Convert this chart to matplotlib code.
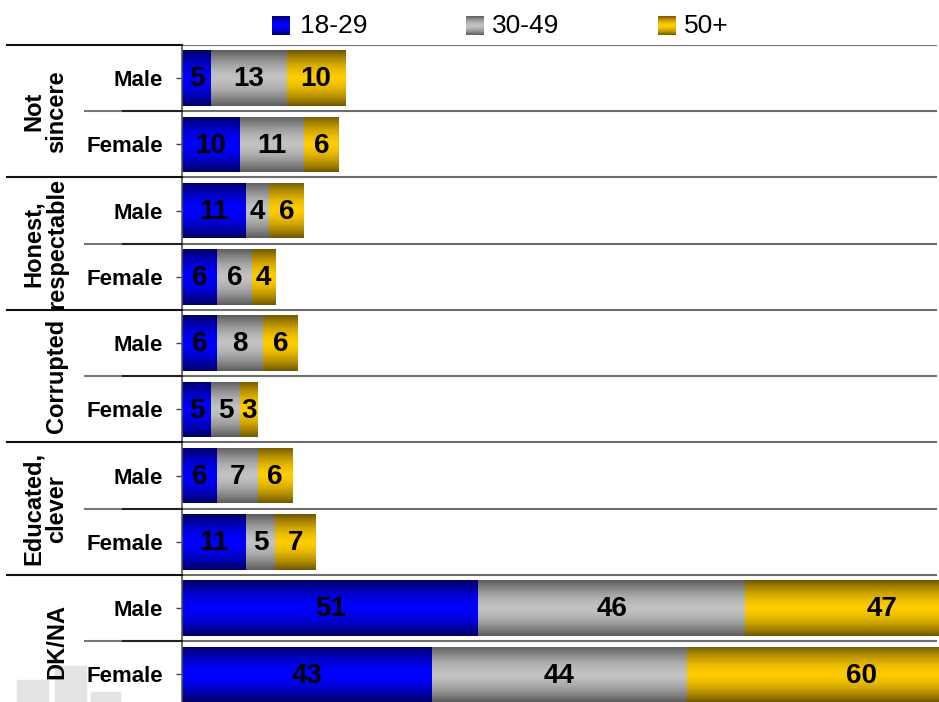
import numpy as np
import matplotlib
matplotlib.use("Agg")
import matplotlib.pyplot as plt
from matplotlib.transforms import blended_transform_factory
from matplotlib.lines import Line2D
from matplotlib.patches import Rectangle

plt.rcParams['font.family'] = ['Liberation Sans', 'DejaVu Sans']

# ---- data ----
groups = ["Not\nsincere", "Honest,\nrespectable", "Corrupted", "Educated,\nclever", "DK/NA"]
genders = ["Male", "Female"]
series = ["18-29", "30-49", "50+"]
age_18_29 = [5, 10, 11, 6, 6, 5, 6, 11, 51, 43]
age_30_49 = [13, 11, 4, 6, 8, 5, 7, 5, 46, 44]
age_50_plus = [10, 6, 6, 4, 6, 3, 6, 7, 47, 60]
values = [age_18_29, age_30_49, age_50_plus]

# gradient colours: (centre, edge)
grad_colors = [
    ((0, 0, 255), (0, 0, 100)),
    ((194, 194, 194), (92, 92, 92)),
    ((255, 204, 0), (112, 88, 0)),
]


def gradient(center, edge, n=96):
    t = np.linspace(0, 1, n)
    w = np.abs(2 * t - 1) ** 1.6
    c = np.array(center, float) / 255
    e = np.array(edge, float) / 255
    arr = c[None, :] * (1 - w[:, None]) + e[None, :] * w[:, None]
    return arr[:, None, :]


W, H = 939, 702
fig = plt.figure(figsize=(W / 100, H / 100), dpi=100)
ax_left, ax_right, ax_top, ax_bot = 182, 937, 45, 707.5
ax = fig.add_axes([ax_left / W, 1 - ax_bot / H, (ax_right - ax_left) / W, (ax_bot - ax_top) / H])

n_rows = len(groups) * len(genders)
ypos = np.arange(n_rows)
bar_h = 0.84
left = np.zeros(n_rows)
for vals, (cc, ec) in zip(values, grad_colors):
    vals = np.array(vals, float)
    bars = ax.barh(ypos, vals, left=left, height=bar_h, color='none', edgecolor='none')
    img = gradient(cc, ec)
    for b, v in zip(bars, vals):
        x0, y0 = b.get_x(), b.get_y()
        im = ax.imshow(img, extent=[x0, x0 + b.get_width(), y0 + b.get_height(), y0],
                       aspect='auto', interpolation='bilinear', zorder=2)
        im.set_clip_path(b)
        ax.text(x0 + b.get_width() / 2, y0 + b.get_height() / 2 + 0.02, f"{int(v)}",
                ha='center', va='center', fontsize=20, fontweight='bold',
                color='black', zorder=4)
    left += vals

ax.set_xlim(0, 130)
ax.set_ylim(n_rows - 0.5, -0.5)
ax.set_xticks([])
ax.set_yticks(ypos, genders * len(groups), fontsize=16, fontweight='bold')
ax.tick_params(axis='y', length=4.5, width=1, color='#444444', pad=9.2)
for s in ['top', 'right', 'bottom']:
    ax.spines[s].set_visible(False)
ax.spines['left'].set_color('#555555')
ax.spines['left'].set_linewidth(1.2)
ax.spines['left'].set_zorder(5)

# row separators
tr = blended_transform_factory(fig.transFigure, ax.transData)
for k in range(n_rows):
    yb = k - 0.5
    group_edge = (k % 2 == 0)
    ax.axhline(yb, color='#6e6e6e', lw=1.5, zorder=1)
    if group_edge:
        fig.add_artist(Line2D([7 / W, ax_left / W], [yb, yb], transform=tr,
                              color='#111111', lw=1.5))
    else:
        fig.add_artist(Line2D([85 / W, 123 / W], [yb, yb], transform=tr,
                              color='#777777', lw=1.5))
        fig.add_artist(Line2D([123 / W, ax_left / W], [yb, yb], transform=tr,
                              color='#222222', lw=1.5))

# group labels
for g, name in enumerate(groups):
    fig.text(68 / W, 2 * g + 0.5, name, transform=tr, rotation=90,
             ha='right', va='center', fontsize=17, fontweight='bold',
             linespacing=1.0, multialignment='center')

# faint logo in the lower-left corner
for x0, x1, top in [(17, 48, 680), (55, 86, 666), (91, 120, 692)]:
    fig.add_artist(Rectangle((x0 / W, 0), (x1 - x0) / W, (H - top) / H,
                             transform=fig.transFigure, color='#e4e4e4', zorder=-5))

# legend
leg_items = [(272, 300), (466, 492), (658, 684)]
for (sx, tx), name, (cc, ec) in zip(leg_items, series, grad_colors):
    lax = fig.add_axes([sx / W, 1 - 35 / H, 18 / W, 19 / H])
    lax.imshow(gradient(cc, ec), aspect='auto', interpolation='bilinear')
    lax.set_axis_off()
    fig.text(tx / W, 1 - 26 / H, name, ha='left', va='center', fontsize=19)

fig.savefig("out.png", dpi=100)
